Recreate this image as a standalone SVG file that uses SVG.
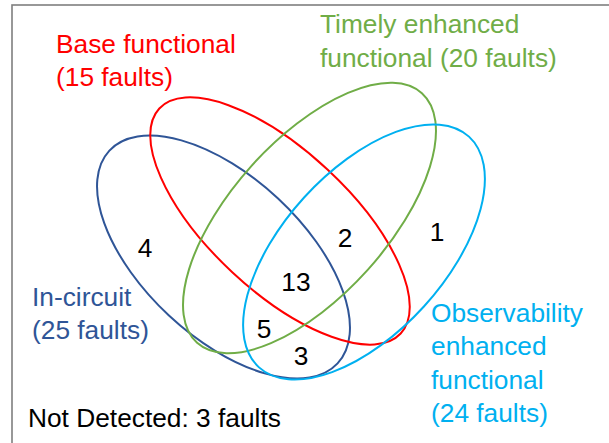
<svg xmlns="http://www.w3.org/2000/svg" width="609" height="443" viewBox="0 0 609 443">
<style>
text{font-family:"Liberation Sans",Arial,sans-serif;font-size:26.3px;}
.set{fill:none;stroke-width:2;}
.num{fill:#000;text-anchor:middle;}
</style>
<rect x="0" y="0" width="609" height="443" fill="#fff"/>
<rect x="12" y="5" width="640" height="480" fill="none" stroke="#7f7f7f" stroke-width="1.6"/>
<g id="in-circuit">
<ellipse class="set" cx="223.5" cy="257" rx="156" ry="80" transform="rotate(43 223.5 257)" stroke="#2F5597"/>
<text x="32" y="306" fill="#2F5597">In-circuit</text>
<text x="32" y="339" fill="#2F5597">(25 faults)</text>
</g>
<g id="base-functional">
<ellipse class="set" cx="280" cy="221" rx="165" ry="70" transform="rotate(43 280 221)" stroke="#FF0000"/>
<text x="56" y="53" fill="#FF0000">Base functional</text>
<text x="56" y="86" fill="#FF0000">(15 faults)</text>
</g>
<g id="timely-enhanced">
<ellipse class="set" cx="309.5" cy="218" rx="168" ry="78" transform="rotate(-48 309.5 218)" stroke="#70AD47"/>
<text x="320" y="33" fill="#70AD47">Timely enhanced</text>
<text x="320" y="66.5" fill="#70AD47">functional (20 faults)</text>
</g>
<g id="observability-enhanced">
<ellipse class="set" cx="364" cy="252" rx="156" ry="81" transform="rotate(-47.7 364 252)" stroke="#00B0F0"/>
<text x="431" y="321.5" fill="#00B0F0">Observability</text>
<text x="431" y="355" fill="#00B0F0">enhanced</text>
<text x="431" y="389" fill="#00B0F0">functional</text>
<text x="431" y="421.5" fill="#00B0F0">(24 faults)</text>
</g>
<g id="regions">
<text class="num" x="145" y="257">4</text>
<text class="num" x="345" y="246.5">2</text>
<text class="num" x="437" y="240.5">1</text>
<text class="num" x="296" y="290.5">13</text>
<text class="num" x="264" y="337.5">5</text>
<text class="num" x="301" y="364.5">3</text>
</g>
<g id="not-detected">
<text x="28" y="427">Not Detected: 3 faults</text>
</g>
<g id="connectors"/>
</svg>
